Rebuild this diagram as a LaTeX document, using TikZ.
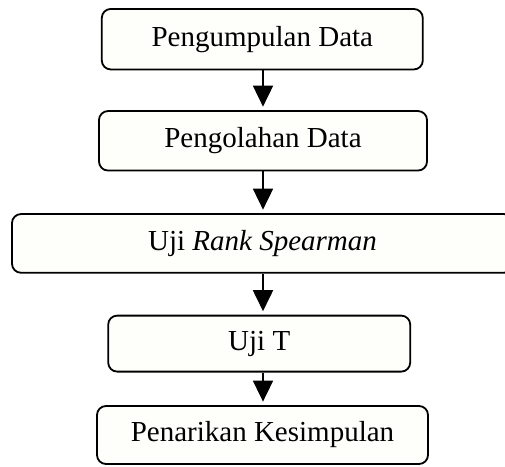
\documentclass[tikz,border=0pt]{standalone}
\usepackage{fontspec}
\setmainfont{Liberation Serif}
\usetikzlibrary{arrows.meta}
\definecolor{boxfill}{RGB}{254,254,250}
\begin{document}
\begin{tikzpicture}[x=1pt,y=-1pt,
  stepbox/.style={draw=black, line width=1.8pt, rounded corners=9pt, fill=boxfill,
    inner sep=0pt, font=\fontsize{29}{34}\selectfont},
  flow/.style={line width=1.8pt, -{Triangle[width=20pt,length=21pt]}, shorten >=3.5pt}]
\useasboundingbox (0,0) rectangle (505,466);
\clip (0,0) rectangle (505,466);
\node[stepbox, minimum width=321pt, minimum height=60.5pt] (b1) at (262.3,39.2) {Pengumpulan Data};
\node[stepbox, minimum width=328pt, minimum height=59.5pt] (b2) at (263,140.8) {Pengolahan Data};
\node[stepbox, minimum width=501pt, minimum height=58.7pt] (b3) at (262.5,243.4) {Uji \textit{Rank Spearman}};
\node[stepbox, minimum width=302pt, minimum height=56pt] (b4) at (259.2,343.6) {Uji T};
\node[stepbox, minimum width=331pt, minimum height=58pt] (b5) at (262.5,435) {Penarikan Kesimpulan};
\coordinate (ax) at (263,0);
\draw[flow] (b1.south -| ax) -- (b2.north -| ax);
\draw[flow] (b2.south -| ax) -- (b3.north -| ax);
\draw[flow] (b3.south -| ax) -- (b4.north -| ax);
\draw[flow] (b4.south -| ax) -- (b5.north -| ax);
\end{tikzpicture}
\end{document}
